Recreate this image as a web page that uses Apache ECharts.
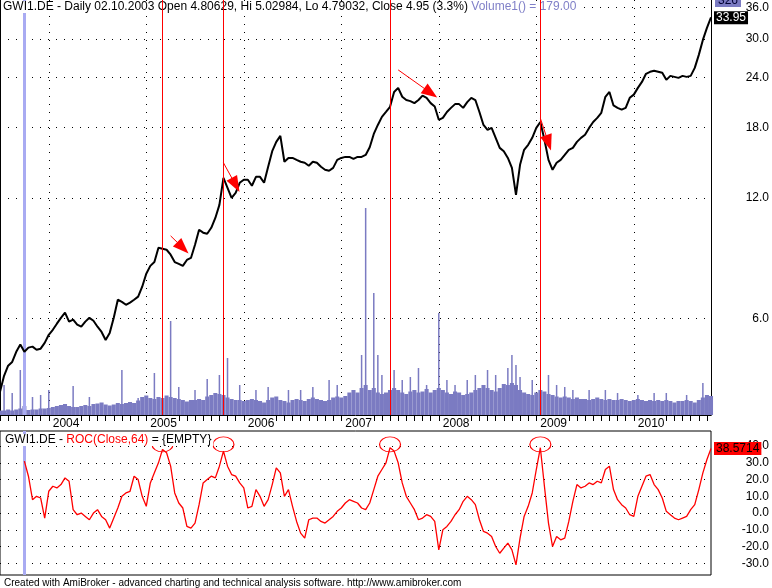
<!DOCTYPE html>
<html>
<head>
<meta charset="utf-8">
<title>GWI1.DE - ROC(Close,64)</title>
<script src="https://cdn.jsdelivr.net/npm/echarts@6/dist/echarts.min.js"></script>
<style>
  html, body { margin: 0; padding: 0; background: #fff; }
  #chart { width: 772px; height: 588px; }
</style>
</head>
<body>
<div id="chart"></div>
<script>
// half-month samples, July 2003 .. October 2010
var dates = [
    '2003-07-01', '2003-07-16', '2003-08-01', '2003-08-16', '2003-09-01', '2003-09-16', '2003-10-01', '2003-10-16', '2003-11-01', '2003-11-16', '2003-12-01', '2003-12-16',
    '2004-01-01', '2004-01-16', '2004-02-01', '2004-02-16', '2004-03-01', '2004-03-16', '2004-04-01', '2004-04-16', '2004-05-01', '2004-05-16', '2004-06-01', '2004-06-16',
    '2004-07-01', '2004-07-16', '2004-08-01', '2004-08-16', '2004-09-01', '2004-09-16', '2004-10-01', '2004-10-16', '2004-11-01', '2004-11-16', '2004-12-01', '2004-12-16',
    '2005-01-01', '2005-01-16', '2005-02-01', '2005-02-16', '2005-03-01', '2005-03-16', '2005-04-01', '2005-04-16', '2005-05-01', '2005-05-16', '2005-06-01', '2005-06-16',
    '2005-07-01', '2005-07-16', '2005-08-01', '2005-08-16', '2005-09-01', '2005-09-16', '2005-10-01', '2005-10-16', '2005-11-01', '2005-11-16', '2005-12-01', '2005-12-16',
    '2006-01-01', '2006-01-16', '2006-02-01', '2006-02-16', '2006-03-01', '2006-03-16', '2006-04-01', '2006-04-16', '2006-05-01', '2006-05-16', '2006-06-01', '2006-06-16',
    '2006-07-01', '2006-07-16', '2006-08-01', '2006-08-16', '2006-09-01', '2006-09-16', '2006-10-01', '2006-10-16', '2006-11-01', '2006-11-16', '2006-12-01', '2006-12-16',
    '2007-01-01', '2007-01-16', '2007-02-01', '2007-02-16', '2007-03-01', '2007-03-16', '2007-04-01', '2007-04-16', '2007-05-01', '2007-05-16', '2007-06-01', '2007-06-16',
    '2007-07-01', '2007-07-16', '2007-08-01', '2007-08-16', '2007-09-01', '2007-09-16', '2007-10-01', '2007-10-16', '2007-11-01', '2007-11-16', '2007-12-01', '2007-12-16',
    '2008-01-01', '2008-01-16', '2008-02-01', '2008-02-16', '2008-03-01', '2008-03-16', '2008-04-01', '2008-04-16', '2008-05-01', '2008-05-16', '2008-06-01', '2008-06-16',
    '2008-07-01', '2008-07-16', '2008-08-01', '2008-08-16', '2008-09-01', '2008-09-16', '2008-10-01', '2008-10-16', '2008-11-01', '2008-11-16', '2008-12-01', '2008-12-16',
    '2009-01-01', '2009-01-16', '2009-02-01', '2009-02-16', '2009-03-01', '2009-03-16', '2009-04-01', '2009-04-16', '2009-05-01', '2009-05-16', '2009-06-01', '2009-06-16',
    '2009-07-01', '2009-07-16', '2009-08-01', '2009-08-16', '2009-09-01', '2009-09-16', '2009-10-01', '2009-10-16', '2009-11-01', '2009-11-16', '2009-12-01', '2009-12-16',
    '2010-01-01', '2010-01-16', '2010-02-01', '2010-02-16', '2010-03-01', '2010-03-16', '2010-04-01', '2010-04-16', '2010-05-01', '2010-05-16', '2010-06-01', '2010-06-16',
    '2010-07-01', '2010-07-16', '2010-08-01', '2010-08-16', '2010-09-01', '2010-09-16', '2010-10-01', '2010-10-16'
]

// close prices (EUR)
var priceClose = [
    3.93, 4.31, 4.57, 4.67, 4.95, 5.16, 4.95, 5.07, 5.10, 5.01, 5.04, 5.21,
    5.46, 5.62, 5.82, 6.02, 6.20, 5.89, 5.96, 5.79, 5.72, 5.89, 6.02, 5.92,
    5.72, 5.55, 5.30, 5.52, 6.02, 6.68, 6.60, 6.49, 6.57, 6.68, 6.80, 7.20,
    7.76, 8.12, 8.30, 9.01, 8.96, 8.91, 8.66, 8.30, 8.21, 8.12, 8.40, 8.50,
    9.17, 10.00, 9.83, 9.77, 10.11, 10.70, 11.54, 13.48, 12.72, 12.01, 12.36, 13.10,
    13.33, 13.33, 12.88, 13.56, 13.56, 13.10, 14.37, 15.72, 16.58, 17.17, 14.79, 15.12,
    15.12, 14.95, 14.79, 14.70, 14.45, 14.79, 14.70, 14.37, 14.12, 14.04, 14.28, 14.95,
    15.12, 15.21, 15.21, 15.04, 15.21, 15.21, 15.38, 16.08, 17.36, 18.28, 19.15, 19.70,
    20.29, 22.11, 22.63, 21.50, 21.10, 20.97, 20.73, 21.10, 21.64, 21.37, 20.73, 20.33,
    18.83, 19.04, 19.70, 20.17, 20.61, 20.61, 20.17, 20.85, 21.37, 21.10, 19.70, 18.28,
    17.76, 17.97, 16.97, 16.02, 15.72, 15.12, 14.28, 12.22, 14.53, 15.84, 16.30, 16.97,
    17.97, 18.60, 16.78, 14.95, 14.12, 14.70, 14.95, 15.38, 15.84, 16.02, 16.58, 16.97,
    17.27, 17.97, 18.60, 19.04, 19.60, 21.50, 22.11, 20.45, 20.17, 19.96, 20.17, 21.37,
    21.77, 22.63, 23.42, 24.54, 24.83, 24.97, 24.83, 24.69, 23.70, 24.25, 24.11, 23.97,
    24.25, 24.11, 24.25, 25.39, 27.37, 29.83, 31.96, 33.95
]

// typical volume level per sample
var volBase = [
    90, 90, 110, 90, 110, 130, 179, 100, 110, 110, 130, 130,
    140, 160, 180, 200, 220, 180, 160, 160, 180, 200, 180, 220,
    230, 250, 210, 190, 210, 240, 220, 240, 260, 240, 290, 360,
    390, 340, 320, 360, 340, 390, 360, 340, 320, 300, 270, 300,
    300, 320, 300, 370, 400, 440, 420, 400, 350, 320, 300, 300,
    280, 300, 320, 300, 280, 250, 300, 350, 370, 300, 280, 250,
    300, 320, 300, 280, 320, 350, 320, 300, 280, 300, 350, 370,
    350, 380, 450, 500, 450, 540, 600, 500, 540, 450, 420, 450,
    500, 540, 500, 450, 420, 470, 500, 450, 470, 520, 450, 500,
    540, 500, 450, 420, 470, 450, 400, 420, 450, 500, 540, 600,
    540, 500, 470, 540, 620, 600, 640, 600, 500, 450, 420, 400,
    450, 500, 470, 420, 400, 370, 350, 370, 350, 320, 350, 320,
    320, 300, 320, 350, 320, 300, 320, 300, 300, 320, 300, 280,
    300, 320, 300, 280, 300, 280, 300, 280, 300, 280, 250, 280,
    280, 300, 280, 250, 300, 350, 400, 380
]

// single-day volume peaks
var volSpikes = [
    ['2003-07-16', 600], ['2003-08-16', 440], ['2003-09-16', 900], ['2003-11-01', 360],
    ['2003-12-01', 400], ['2004-01-01', 500], ['2004-04-01', 580], ['2004-06-01', 360],
    ['2004-10-01', 900], ['2004-12-01', 340], ['2005-02-01', 840], ['2005-04-01', 1880],
    ['2005-05-01', 560], ['2005-07-01', 500], ['2005-08-16', 720], ['2005-10-01', 800],
    ['2005-11-01', 1140], ['2005-12-16', 600], ['2006-02-16', 500], ['2006-04-01', 560],
    ['2006-06-16', 500], ['2006-08-01', 500], ['2006-09-16', 560], ['2006-11-16', 700],
    ['2006-12-16', 600], ['2007-03-16', 1200], ['2007-04-01', 4140], ['2007-05-01', 2440],
    ['2007-05-16', 1200], ['2007-06-01', 800], ['2007-07-16', 900], ['2007-08-16', 700],
    ['2007-09-16', 760], ['2007-10-16', 940], ['2007-11-16', 600], ['2008-01-01', 2040],
    ['2008-02-01', 700], ['2008-03-01', 600], ['2008-04-16', 700], ['2008-05-16', 800],
    ['2008-07-01', 900], ['2008-08-01', 800], ['2008-09-16', 940], ['2008-10-01', 1200],
    ['2008-10-16', 1000], ['2008-11-01', 760], ['2008-12-16', 700], ['2009-02-16', 800],
    ['2009-03-16', 600], ['2009-04-16', 560], ['2009-05-16', 500], ['2009-07-16', 500],
    ['2009-09-16', 500], ['2009-11-01', 440], ['2010-01-16', 400], ['2010-03-16', 440],
    ['2010-05-01', 440], ['2010-07-16', 400], ['2010-09-16', 640]
]

// ROC(Close,64) in percent
var rocValues = [
    null, null, null, null, null, null, 31, 22, 8, 10, 9, -3,
    13, 16, 15, 17, 21, 19, 2, -1, 0, -2, -4, 0,
    2, -2, -4, -9, -3, 3, 10, 12, 13, 22, 20, 10,
    4, 18, 24, 30, 38, 36, 28, 12, 6, 3, -8, -9,
    -6, 5, 18, 20, 22, 21, 28, 37, 28, 23, 22, 18,
    15, 3, 4, 14, 10, 4, 8, 17, 27, 24, 10, 14,
    4, -5, -12, -15, -4, -3, -3, -5, -6, -4, -2, 1,
    3, 6, 8, 7, 6, 3, 2, 6, 14, 22, 26, 30,
    39, 37, 30, 18, 10, 6, 2, -4, -3, -1, -2, -5,
    -22, -10, -8, -5, -1, 2, 7, 10, 8, 5, -4, -11,
    -12, -14, -20, -24, -21, -18, -22, -31, -15, -2, 4, 12,
    26, 39, 16, -6, -20, -14, -16, -15, -5, 7, 17, 15,
    16, 18, 17, 19, 18, 26, 28, 14, 8, 5, 3, -1,
    -2, 10, 16, 22, 23, 17, 14, 9, 1, -1, -3, -4,
    -3, -2, 2, 5, 14, 24, 32, 38.5714
]

var priceTicks = [6, 12, 18, 24, 30, 36]
var rocTicks = [-30, -20, -10, 0, 10, 20, 30, 40]
var signalDates = ['2005-03-01', '2005-10-16', '2007-07-01', '2009-01-16']
var cursorDate = '2003-10-01'
// [from date, from price, to date, to price]
var arrowMarks = [
    ['2005-04-01', 9.65, '2005-05-16', 9.01],
    ['2005-10-16', 14.7, '2005-12-01', 12.94],
    ['2007-08-01', 25.1, '2007-12-01', 21.98],
    ['2009-01-16', 19.0, '2009-02-16', 16.49]
]
var lastClose = 33.95
var lastRoc = 38.5714
var lastVolumeLabel = '326'

var FONT = '"Liberation Sans", Arial, sans-serif'
var VOL_COLOR = '#7b7bc2'
var lg = function(v) { return Math.log10(v) }
var dotted = { color: '#000', width: 1, type: [1, 7] }
var hidden = { color: 'rgba(0,0,0,0)', width: 1 }

function monthTick(i, v) {
    var m = v.slice(5, 7)
    return v.slice(8) === '01' && m !== '02' && m !== '03' && m !== '04'
}
function yearStart(i, v) { return v.slice(5) === '01-01' }

var priceMarks = signalDates.map(function(d) { return { xAxis: d } })
arrowMarks.forEach(function(a) {
    priceMarks.push([
        { coord: [a[0], lg(a[1])], symbol: 'none' },
        { coord: [a[2], lg(a[3])], symbol: 'triangle', symbolSize: [12, 16] }
    ])
})
priceMarks.push({
    yAxis: lg(lastClose),
    lineStyle: hidden,
    label: {
        show: true, position: 'end', distance: 3, formatter: String(lastClose),
        backgroundColor: '#000', color: '#fff', padding: [1, 2, 0, 2], fontSize: 12, fontFamily: FONT
    }
})

var chart = echarts.init(document.getElementById('chart'), null, { renderer: 'canvas' })
var option = {
    animation: false,
    backgroundColor: '#fff',
    textStyle: { fontFamily: FONT },
    title: [{
        left: 1, top: 1, padding: [0, 2], backgroundColor: '#fff',
        text: 'GWI1.DE - Daily 02.10.2003 Open 4.80629, Hi 5.02984, Lo 4.79032, Close 4.95 (3.3%) {v|Volume1() = 179.00}',
        textStyle: {
            fontSize: 12, fontWeight: 'normal', color: '#000', fontFamily: FONT,
            rich: { v: { color: '#8080c8', fontSize: 12, fontFamily: FONT } }
        }
    }, {
        left: 3, top: 434, padding: [0, 2], backgroundColor: '#fff',
        text: 'GWI1.DE - {r|ROC(Close,64)} = {EMPTY}',
        textStyle: {
            fontSize: 12, fontWeight: 'normal', color: '#000', fontFamily: FONT,
            rich: { r: { color: '#ff0000', fontSize: 12, fontFamily: FONT } }
        }
    }, {
        left: 4, top: 578, padding: 0,
        text: 'Created with AmiBroker - advanced charting and technical analysis software. http://www.amibroker.com',
        textStyle: { fontSize: 10, fontWeight: 'normal', color: '#000', fontFamily: FONT }
    }],
    graphic: [{
        type: 'text', x: 715, y: -5, z: 10,
        style: {
            text: lastVolumeLabel, fill: '#000033', backgroundColor: VOL_COLOR,
            padding: [0, 3], fontSize: 12, fontFamily: FONT
        }
    }],
    grid: [
        { left: 0, top: 0, width: 713, height: 415 },
        { left: 0, top: 431, width: 713, height: 144, show: true, borderColor: '#000', borderWidth: 1 }
    ],
    xAxis: [{
        gridIndex: 0, type: 'category', data: dates, boundaryGap: false,
        axisLine: { lineStyle: { color: '#000', width: 1 } },
        axisTick: { interval: monthTick, length: 6, lineStyle: { color: '#000' } },
        axisLabel: {
            interval: yearStart, formatter: function(v) { return v.slice(0, 4) },
            align: 'left', padding: [0, 0, 0, 4], margin: 3, fontSize: 12, color: '#000', fontFamily: FONT
        },
        splitLine: { show: true, interval: yearStart, lineStyle: dotted }
    }, {
        gridIndex: 0, type: 'category', data: dates, boundaryGap: false, show: false
    }, {
        gridIndex: 1, type: 'category', data: dates, boundaryGap: false,
        axisLine: { show: false }, axisTick: { show: false }, axisLabel: { show: false }, splitLine: { show: false }
    }],
    yAxis: [{
        gridIndex: 0, type: 'value', position: 'right',
        min: lg(3.44), max: lg(37.54),
        axisLine: { show: true, lineStyle: { color: '#000' } },
        axisTick: { show: false, customValues: priceTicks.map(lg) },
        axisLabel: {
            customValues: priceTicks.map(lg),
            formatter: function(v) { return Math.pow(10, v).toFixed(1) },
            align: 'right', margin: 58, fontSize: 12, color: '#000', fontFamily: FONT
        },
        splitLine: { show: true, lineStyle: dotted }
    }, {
        gridIndex: 0, type: 'value', position: 'left', min: 0, max: 8300,
        axisLine: { show: true, lineStyle: { color: '#000' } },
        axisTick: { show: false }, axisLabel: { show: false }, splitLine: { show: false }
    }, {
        gridIndex: 1, type: 'value', position: 'right', min: -37, max: 49,
        axisLine: { show: false },
        axisTick: { show: false, customValues: rocTicks },
        axisLabel: {
            customValues: rocTicks,
            formatter: function(v) { return v.toFixed(1) },
            align: 'right', margin: 58, fontSize: 12, color: '#000', fontFamily: FONT
        },
        splitLine: { show: true, lineStyle: dotted }
    }],
    series: [{
        name: 'Volume',
        type: 'bar', xAxisIndex: 0, yAxisIndex: 1,
        data: volBase, barCategoryGap: '0%', z: 2,
        itemStyle: { color: VOL_COLOR },
        markLine: {
            silent: true, z: 3, symbol: ['none', 'none'], label: { show: false },
            lineStyle: { color: '#a9abf2', width: 3, type: 'solid' },
            data: [{ xAxis: cursorDate }]
        }
    }, {
        name: 'Volume peaks',
        type: 'bar', xAxisIndex: 1, yAxisIndex: 1,
        data: volSpikes, barWidth: 1.5, z: 2,
        itemStyle: { color: VOL_COLOR }
    }, {
        name: 'Close',
        type: 'line', xAxisIndex: 0, yAxisIndex: 0,
        data: priceClose.map(lg), showSymbol: false, z: 4,
        lineStyle: { color: '#000', width: 2 },
        markLine: {
            silent: true, z: 7, symbol: ['none', 'none'], label: { show: false },
            lineStyle: { color: '#ff0000', width: 1, type: 'solid' },
            itemStyle: { color: '#ff0000' },
            data: priceMarks
        }
    }, {
        name: 'ROC',
        type: 'line', xAxisIndex: 2, yAxisIndex: 2,
        data: rocValues, showSymbol: false, z: 4,
        lineStyle: { color: '#ff0000', width: 1.3 },
        markLine: {
            silent: true, z: 3, symbol: ['none', 'none'], label: { show: false },
            data: [{
                xAxis: cursorDate,
                lineStyle: { color: '#a9abf2', width: 3, type: 'solid' }
            }, {
                yAxis: lastRoc,
                lineStyle: hidden,
                label: {
                    show: true, position: 'end', distance: 3, formatter: String(lastRoc),
                    backgroundColor: '#ff0000', color: '#000', padding: [1, 2, 0, 2], fontSize: 12, fontFamily: FONT
                }
            }]
        },
        markPoint: {
            silent: true, z: 5, symbol: 'circle', symbolSize: [21, 15],
            label: { show: false },
            itemStyle: { color: 'rgba(0,0,0,0)', borderColor: '#ff0000', borderWidth: 1 },
            data: signalDates.map(function(d) { return { coord: [d, 41] } })
        }
    }]
}
chart.setOption(option)
</script>
</body>
</html>
